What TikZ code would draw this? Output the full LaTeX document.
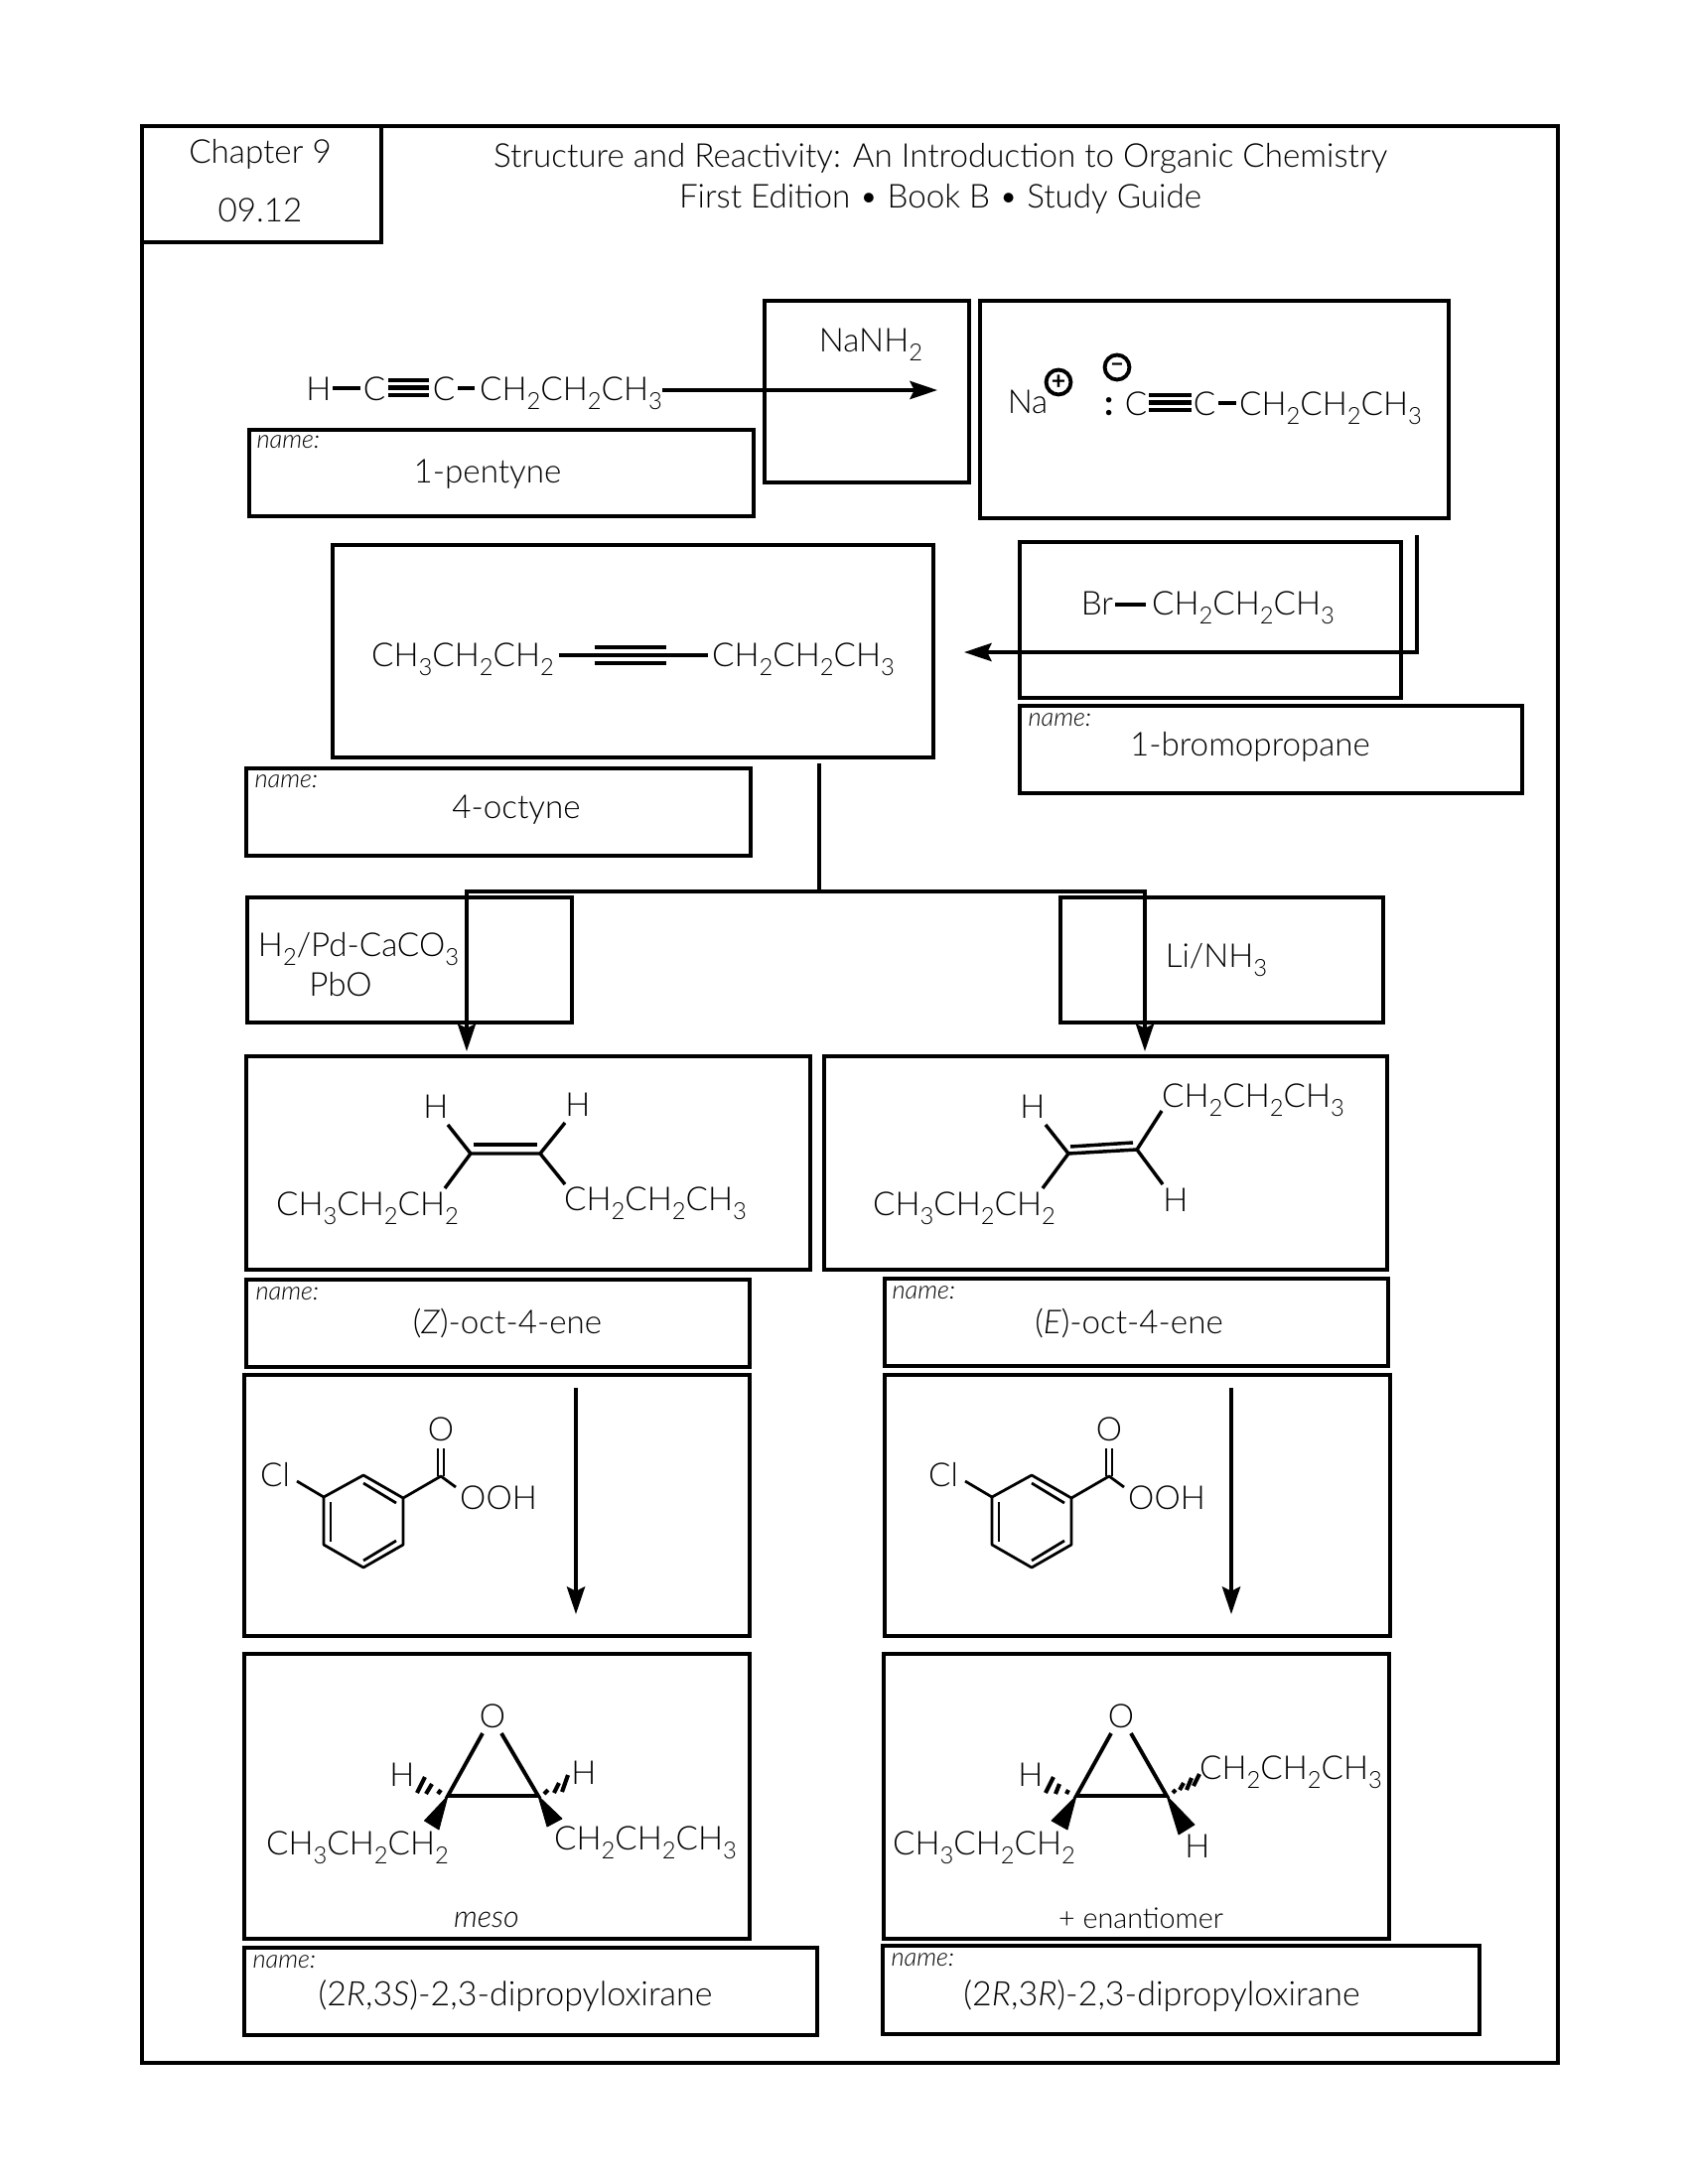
\documentclass[tikz,border=0pt]{standalone}
\usepackage{fontspec}
\setmainfont{Lato}[UprightFont=* Light,ItalicFont=* Light Italic,BoldFont=* Bold]
\usetikzlibrary{arrows.meta,fit}

\newcommand{\sbs}[1]{{\fontsize{8.6}{9}\selectfont\raisebox{-3.2pt}{#1}}}
\newcommand{\chainR}{CH\sbs{2}CH\sbs{2}CH\sbs{3}}
\newcommand{\chainL}{CH\sbs{3}CH\sbs{2}CH\sbs{2}}

\tikzset{
  box/.style={draw, line width=1.3pt, inner sep=0pt},
  lab/.style={anchor=base, inner sep=0pt, yshift=-0.5pt, font=\fontsize{12}{14}\selectfont},
  namelab/.style={anchor=base west, inner sep=0pt, yshift=-1.2pt, font=\fontsize{9.2}{11}\selectfont\itshape},
  chg/.style={circle, draw, line width=1.4pt, inner sep=0pt, minimum size=9pt, font=\fontsize{9}{9}\selectfont\bfseries},
  bond/.style={line width=1.25pt},
  triple/.style={line width=1.5pt},
  thin bond/.style={line width=1pt, line join=round},
  hash/.style={line width=1.5pt},
  wedge/.style={line width=0.3pt, line join=round},
  arrow/.style={line width=1.25pt, -{Stealth[length=10pt,width=6.6pt,inset=1.6pt]}}
}

\begin{document}
\begin{tikzpicture}[x=0.005in,y=-0.005in]
\useasboundingbox (0,0) rectangle (1700,2200);

% frame and header
\node (frame) [box, fit={(143,127)(1569,2078)}] {};
\node (chapbox) [box, fit={(143,127)(384,244)}] {};
\node (chapter) [lab] at (262,163) {Chapter 9};
\node (section) [lab] at (262,222) {09.12};
\node (title) [lab] at (947,167) {Structure and Reactivity: An Introduction to Organic Chemistry};
\node (edition) [lab] at (947,208) {First Edition • Book B • Study Guide};

% 1-pentyne
\node (pH) [lab] at (321,402) {H};
\node (pC1) [lab] at (377,402) {C};
\node (pC2) [lab] at (447,402) {C};
\node (pChain) [lab] at (575,402) {\chainR};
\coordinate (pb1) at (335,391);
\coordinate (pb2) at (363,391);
\coordinate (pb3) at (461,391);
\coordinate (pb4) at (478,391);
\draw [bond] (pb1) -- (pb2);
\draw [bond] (pb3) -- (pb4);
\draw [triple] (391,383) -- (432,383);
\draw [triple] (391,390.5) -- (432,390.5);
\draw [triple] (391,398) -- (432,398);
\node (pentbox) [box, fit={(251,433)(759,520)}] {};
\node (pentname) [namelab] at (258,448) {name:};
\node (pentlab) [lab] at (491,485) {1-pentyne};

% NaNH2
\node (nabox) [box, fit={(770,303)(976,486)}] {};
\node (nalab) [lab] at (877,353) {NaNH\sbs{2}};
\coordinate (armA) at (667,393);
\coordinate (armB) at (944,393);
\draw [arrow] (armA) -- (armB);

% acetylide
\node (anbox) [box, fit={(987,303)(1459,522)}] {};
\node (naion) [lab] at (1035,415) {Na};
\node (plus) [chg] at (1066,385) {+};
\node (minus) [chg] at (1125,370) {--};
\node (colon) [lab, font=\fontsize{13}{13}\selectfont\bfseries] at (1117,417) {:};
\node (aC1) [lab] at (1144,417) {C};
\node (aC2) [lab] at (1213,417) {C};
\node (aChain) [lab] at (1340,417) {\chainR};
\draw [triple] (1157,398) -- (1200,398);
\draw [triple] (1157,405.5) -- (1200,405.5);
\draw [triple] (1157,413) -- (1200,413);
\coordinate (ab1) at (1227,406);
\coordinate (ab2) at (1245,406);
\draw [bond] (ab1) -- (ab2);

% 1-bromopropane
\node (brbox) [box, fit={(1027,546)(1411,703)}] {};
\node (brA) [lab] at (1105,618) {Br};
\node (brChain) [lab] at (1252,618) {\chainR};
\coordinate (brb1) at (1123,609);
\coordinate (brb2) at (1154,609);
\draw [triple] (brb1) -- (brb2);
\node (brnbox) [box, fit={(1027,711)(1533,799)}] {};
\node (brname) [namelab] at (1035,728) {name:};
\node (brlab) [lab] at (1259,760) {1-bromopropane};
\coordinate (armC) at (1427,539);
\coordinate (armD) at (1427,657);
\coordinate (armE) at (971,657);
\draw [arrow] (armC) -- (armD) -- (armE);

% 4-octyne
\node (octbox) [box, fit={(335,549)(940,763)}] {};
\node (octL) [lab] at (466,670) {\chainL};
\node (octR) [lab] at (809,670) {\chainR};
\coordinate (ob1) at (563,660);
\coordinate (ob2) at (713,660);
\draw [bond] (ob1) -- (ob2);
\draw [triple] (599,652) -- (671,652);
\draw [triple] (599,668) -- (671,668);
\node (octnbox) [box, fit={(248,774)(756,862)}] {};
\node (octname) [namelab] at (256,790) {name:};
\node (octlab) [lab] at (520,823) {4-octyne};

% branch
\coordinate (brtop) at (825,769);
\coordinate (brjoin) at (825,898);
\coordinate (brleft) at (470,898);
\coordinate (brright) at (1153,898);
\coordinate (brlefttip) at (470,1059);
\coordinate (brrighttip) at (1153,1059);
\draw [line width=1.25pt] (brtop) -- (brjoin);
\draw [arrow] (brjoin) -- (brleft) -- (brlefttip);
\draw [arrow] (brjoin) -- (brright) -- (brrighttip);

% reagents
\node (pdbox) [box, fit={(249,904)(576,1030)}] {};
\node (pdA) [lab] at (361,962) {H\sbs{2}/Pd-CaCO\sbs{3}};
\node (pdB) [lab] at (343,1002) {PbO};
\node (libox) [box, fit={(1068,904)(1393,1030)}] {};
\node (lilab) [lab] at (1225,973) {Li/NH\sbs{3}};

% (Z) alkene
\node (zbox) [box, fit={(248,1064)(816,1279)}] {};
\node (zH1) [lab] at (439,1125) {H};
\node (zH2) [lab] at (582,1123) {H};
\node (zL) [lab] at (370,1223) {\chainL};
\node (zR) [lab] at (660,1218) {\chainR};
\coordinate (zc1) at (474,1162);
\coordinate (zc2) at (544,1162);
\coordinate (zh1) at (451,1133);
\coordinate (zh2) at (569,1131);
\coordinate (zl) at (448,1197);
\coordinate (zr) at (569,1193);
\draw [bond, line join=round] (zh1) -- (zc1) -- (zc2) -- (zh2);
\draw [bond] (zl) -- (zc1);
\draw [bond] (zc2) -- (zr);
\draw [bond] (477,1153) -- (541,1153);
\node (znbox) [box, fit={(248,1289)(755,1377)}] {};
\node (zname) [namelab] at (257,1306) {name:};
\node (zlab) [lab] at (511,1342) {(\textit{Z})-oct-4-ene};

% (E) alkene
\node (ebox) [box, fit={(830,1064)(1397,1279)}] {};
\node (eH1) [lab] at (1040,1125) {H};
\node (eH2) [lab] at (1184,1219) {H};
\node (eL) [lab] at (971,1223) {\chainL};
\node (eR) [lab] at (1262,1114) {\chainR};
\coordinate (ec1) at (1076,1162);
\coordinate (ec2) at (1145,1158);
\coordinate (eh1) at (1053,1133);
\coordinate (eh2) at (1171,1193);
\coordinate (el) at (1050,1197);
\coordinate (er) at (1170,1119);
\draw [bond, line join=round] (eh1) -- (ec1) -- (ec2) -- (eh2);
\draw [bond] (el) -- (ec1);
\draw [bond] (ec2) -- (er);
\draw [bond] (1078,1155) -- (1141,1151);
\node (enbox) [box, fit={(891,1288)(1398,1376)}] {};
\node (ename) [namelab] at (898,1305) {name:};
\node (elab) [lab] at (1137,1342) {(\textit{E})-oct-4-ene};

% peracid, left
\node (ralbox) [box, fit={(246,1385)(755,1648)}] {};
\node (lCl) [lab] at (277,1496) {Cl};
\node (lO) [lab] at (444,1450) {O};
\node (lOOH) [lab] at (502,1519) {OOH};
\coordinate (la1) at (366,1486);
\coordinate (la2) at (406,1509);
\coordinate (la3) at (406,1556);
\coordinate (la4) at (366,1579);
\coordinate (la5) at (326,1556);
\coordinate (la6) at (326,1508);
\coordinate (lcl) at (299,1492);
\coordinate (lcc) at (444,1487);
\coordinate (loh) at (459,1498);
\draw [thin bond] (la1) -- (la2) -- (la3) -- (la4) -- (la5) -- (la6) -- cycle;
\draw [thin bond] (366,1494) -- (399,1514);
\draw [thin bond] (399,1552) -- (366,1572);
\draw [thin bond] (333,1513) -- (333,1553);
\draw [thin bond] (la6) -- (lcl);
\draw [thin bond] (la2) -- (lcc) -- (loh);
\draw [thin bond] (441,1487) -- (441,1459);
\draw [thin bond] (447,1487) -- (447,1459);
\coordinate (armF) at (580,1398);
\coordinate (armG) at (580,1626);
\draw [arrow] (armF) -- (armG);

% peracid, right
\node (rarbox) [box, fit={(891,1385)(1400,1648)}] {};
\begin{scope}[shift={(673,0)}]
\node (rCl) [lab] at (277,1496) {Cl};
\node (rO) [lab] at (444,1450) {O};
\node (rOOH) [lab] at (502,1519) {OOH};
\coordinate (ra1) at (366,1486);
\coordinate (ra2) at (406,1509);
\coordinate (ra3) at (406,1556);
\coordinate (ra4) at (366,1579);
\coordinate (ra5) at (326,1556);
\coordinate (ra6) at (326,1508);
\coordinate (rcl) at (299,1492);
\coordinate (rcc) at (444,1487);
\coordinate (roh) at (459,1498);
\draw [thin bond] (ra1) -- (ra2) -- (ra3) -- (ra4) -- (ra5) -- (ra6) -- cycle;
\draw [thin bond] (366,1494) -- (399,1514);
\draw [thin bond] (399,1552) -- (366,1572);
\draw [thin bond] (333,1513) -- (333,1553);
\draw [thin bond] (ra6) -- (rcl);
\draw [thin bond] (ra2) -- (rcc) -- (roh);
\draw [thin bond] (441,1487) -- (441,1459);
\draw [thin bond] (447,1487) -- (447,1459);
\end{scope}
\coordinate (armH) at (1240,1398);
\coordinate (armI) at (1240,1626);
\draw [arrow] (armH) -- (armI);

% meso epoxide
\node (mbox) [box, fit={(246,1666)(755,1953)}] {};
\node (mO) [lab] at (496,1739) {O};
\node (mHl) [lab] at (405,1798) {H};
\node (mHr) [lab] at (588,1796) {H};
\node (mL) [lab] at (360,1867) {\chainL};
\node (mR) [lab] at (650,1862) {\chainR};
\coordinate (mc1) at (451,1809);
\coordinate (mc2) at (542,1809);
\coordinate (mo1) at (486,1746);
\coordinate (mo2) at (505,1746);
\draw [bond, line width=1.4pt] (mo1) -- (mc1) -- (mc2) -- (mo2);
\filldraw [wedge] (mc1) -- (427.5,1834) -- (442,1843) -- cycle;
\filldraw [wedge] (mc2) -- (551,1840) -- (566,1832) -- cycle;
\draw [hash] (441,1807) -- (444,1803);
\draw [hash] (429,1807) -- (435,1797);
\draw [hash] (420,1806) -- (428,1790);
\draw [hash] (548,1807) -- (552,1803);
\draw [hash] (558,1806) -- (563,1796);
\draw [hash] (566,1805) -- (572,1788);
\node (mlab) [lab, font=\fontsize{11}{13}\selectfont\itshape] at (490,1940) {meso};
\node (mnbox) [box, fit={(246,1962)(823,2050)}] {};
\node (mname) [namelab] at (254,1979) {name:};
\node (mnlab) [lab, font=\fontsize{12.3}{14}\selectfont] at (519,2019) {(2\textit{R},3\textit{S})-2,3-dipropyloxirane};

% other epoxide
\node (tbox) [box, fit={(890,1666)(1399,1953)}] {};
\node (tO) [lab] at (1129,1739) {O};
\node (tHl) [lab] at (1038,1798) {H};
\node (tHr) [lab] at (1206,1870) {H};
\node (tL) [lab] at (991,1867) {\chainL};
\node (tR) [lab] at (1300,1791) {\chainR};
\coordinate (tc1) at (1084,1809);
\coordinate (tc2) at (1175,1809);
\coordinate (to1) at (1119,1746);
\coordinate (to2) at (1139,1746);
\draw [bond, line width=1.4pt] (to1) -- (tc1) -- (tc2) -- (to2);
\filldraw [wedge] (tc1) -- (1059,1834) -- (1075,1843) -- cycle;
\filldraw [wedge] (tc2) -- (1187,1848) -- (1203,1838) -- cycle;
\draw [hash] (1074,1807) -- (1076,1803);
\draw [hash] (1063,1807) -- (1067,1797);
\draw [hash] (1053,1806) -- (1061,1790);
\draw [hash] (1181,1806) -- (1184,1803);
\draw [hash] (1188,1803) -- (1192,1796);
\draw [hash] (1195,1803) -- (1200,1791);
\draw [hash] (1202,1799) -- (1208,1787);
\node (tlab) [lab, font=\fontsize{10.4}{13}\selectfont] at (1149,1941) {+ enantiomer};
\node (tnbox) [box, fit={(889,1960)(1490,2049)}] {};
\node (tname) [namelab] at (897,1977) {name:};
\node (tnlab) [lab, font=\fontsize{12.3}{14}\selectfont] at (1170,2019) {(2\textit{R},3\textit{R})-2,3-dipropyloxirane};

\end{tikzpicture}
\end{document}
